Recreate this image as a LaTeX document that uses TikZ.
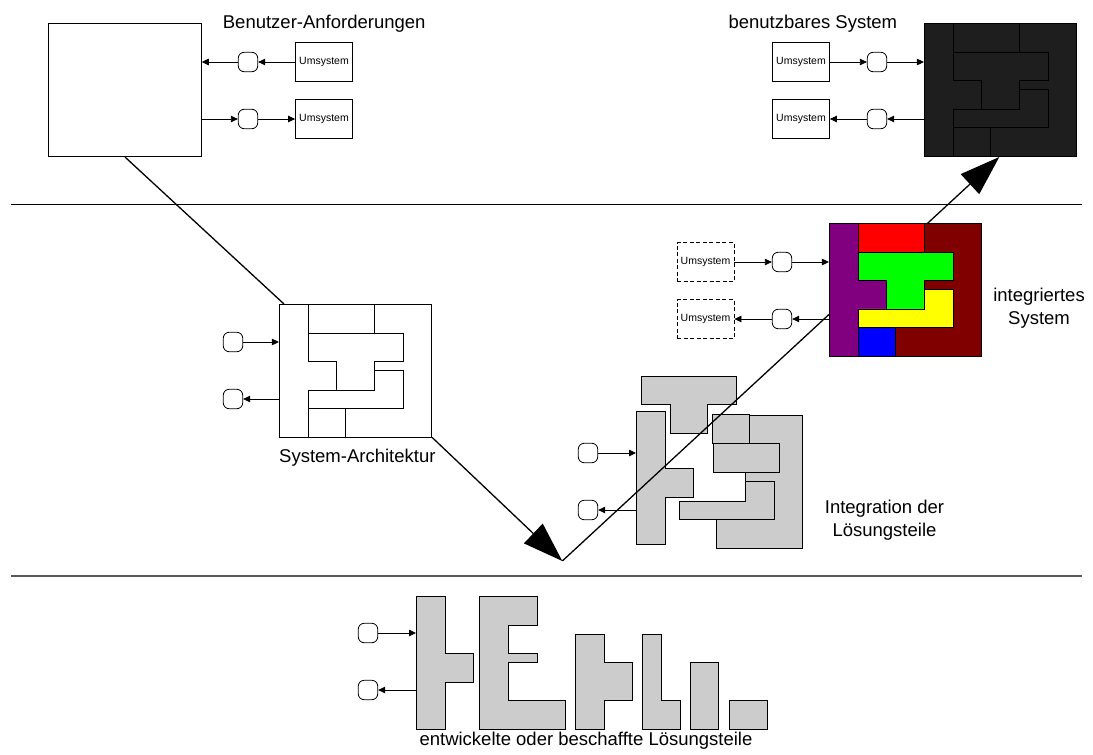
\documentclass[tikz,border=0pt]{standalone}
\usepackage{fontspec}
\setmainfont{Liberation Sans}
\usetikzlibrary{arrows.meta,calc}
\definecolor{pgrey}{RGB}{204,204,204}
\definecolor{sysblk}{RGB}{30,30,30}
\definecolor{ppurple}{RGB}{128,0,128}
\definecolor{pdred}{RGB}{128,0,0}
\definecolor{pred}{RGB}{255,0,0}
\definecolor{pgreen}{RGB}{0,255,0}
\definecolor{pyellow}{RGB}{255,255,0}
\definecolor{pblue}{RGB}{0,0,255}
\tikzset{
 pP/.pic={\path[pic actions] (0,0)--(.19,0)--(.19,.43)--(.375,.43)--(.375,.645)--(.19,.645)--(.19,1)--(0,1)--cycle;},
 pR/.pic={\path[pic actions] (.19,0) rectangle (.622,.22);},
 pG/.pic={\path[pic actions] (.19,.22)--(.812,.22)--(.812,.43)--(.622,.43)--(.622,.645)--(.375,.645)--(.375,.43)--(.19,.43)--cycle;},
 pY/.pic={\path[pic actions] (.622,.5)--(.812,.5)--(.812,.785)--(.19,.785)--(.19,.645)--(.622,.645)--cycle;},
 pB/.pic={\path[pic actions] (.19,.785) rectangle (.437,1);},
 pD/.pic={\path[pic actions] (.622,0)--(1,0)--(1,1)--(.437,1)--(.437,.785)--(.812,.785)--(.812,.5)--(.622,.5)--(.622,.43)--(.812,.43)--(.812,.22)--(.622,.22)--cycle;},
}
\newcommand\drawsystem[7]{%
 \begin{scope}[shift={#1}, x=152.7pt, y=-133.3pt]
  \pic[piece, fill=#7] at (0,0) {pD};
  \pic[piece, fill=#2] at (0,0) {pP};
  \pic[piece, fill=#3] at (0,0) {pR};
  \pic[piece, fill=#4] at (0,0) {pG};
  \pic[piece, fill=#5] at (0,0) {pY};
  \pic[piece, fill=#6] at (0,0) {pB};
 \end{scope}}
\begin{document}
\begin{tikzpicture}[x=1pt,y=-1pt,
  lab/.style={font=\fontsize{18.5}{23.3}\selectfont, inner sep=0pt},
  um/.style={draw, line width=0.8pt, minimum width=57pt, minimum height=39pt, inner sep=0pt, font=\fontsize{10.5}{12}\selectfont},
  umd/.style={um, dash pattern=on 4pt off 2.5pt},
  port/.style={draw, line width=0.8pt, rounded corners=6pt, minimum width=19.5pt, minimum height=19.5pt, inner sep=0pt},
  arr/.style={line width=0.8pt, -{Triangle[length=7pt,width=6.5pt]}},
  vline/.style={line width=1.3pt},
  big/.style={vline, -{Triangle[length=40pt,width=27pt]}},
  frame/.style={minimum width=152.7pt, minimum height=133.3pt, inner sep=0pt},
  piece/.style={draw=black, line width=0.8pt},
  sep/.style={line width=1.2pt},
]
\useasboundingbox (0,0) rectangle (1093,755);

% separators
\coordinate (s1a) at (11,204.5); \coordinate (s1b) at (1082,204.5);
\coordinate (s2a) at (11,576); \coordinate (s2b) at (1082,576);
\draw[sep] (s1a) -- (s1b);
\draw[sep, black!65] (s2a) -- (s2b);

% frames
\node[frame, draw, line width=0.8pt] (req) at (125,90) {};
\node[frame] (sys) at (1000.5,90) {};
\node[frame] (integ) at (905.5,290) {};
\node[frame] (arch) at (355.5,370.5) {};
\coordinate (archin) at (284,304);
\coordinate (tip) at (562.3,561);
\coordinate (sysin) at (999.3,157);

% integration of solution parts
\begin{scope}[shift={(650,415)}, x=152.7pt, y=-133.3pt]
 \pic[piece, fill=pgrey] at (0,0) {pD};
 \pic[piece, fill=pgrey] at (0,0) {pY};
 \pic[piece, fill=pgrey] at (.2227,.2125) {pR};
 \pic[piece, fill=pgrey] at (.216,-.7877) {pB};
 \pic[piece, fill=pgrey] at (-.2443,-.51) {pG};
 \pic[piece, fill=pgrey] at (-.0917,-.03) {pP};
\end{scope}

% V lines
\draw[vline] (req.south) -- (archin);
\draw[big] (arch.south east) -- (tip);
\draw[big] (tip) -- (sysin);

% systems
\drawsystem{(829,223)}{ppurple}{pred}{pgreen}{pyellow}{pblue}{pdred}
\drawsystem{(279,304)}{white}{white}{white}{white}{white}{white}
\drawsystem{(924,23)}{sysblk}{sysblk}{sysblk}{sysblk}{sysblk}{sysblk}

% bottom: developed parts
\begin{scope}[shift={(416,596)}, x=152.7pt, y=-133.3pt]
 \pic[piece, fill=pgrey] at (0,0) {pP};
\end{scope}
\begin{scope}[shift={(632,596)}, x=-152.7pt, y=-133.3pt]
 \pic[piece, fill=pgrey] at (0,0) {pD};
\end{scope}
\filldraw[piece, fill=pgrey] (575.7,634)--(604,634)--(604,662.7)--(632.3,662.7)--(632.3,700.7)--(604,700.7)--(604,729)--(575.7,729)--cycle;
\filldraw[piece, fill=pgrey] (642.3,634)--(661.7,634)--(661.7,700.7)--(680,700.7)--(680,729)--(642.3,729)--cycle;
\filldraw[piece, fill=pgrey] (690,662.7) rectangle (718.3,729);
\filldraw[piece, fill=pgrey] (729,700.7) rectangle (767.7,729);

% top left: requirements
\node[um] (um1) at (324,62) {Umsystem};
\node[um] (um2) at (324,119) {Umsystem};
\node[port] (c1) at (248,62) {};
\node[port] (c2) at (248,119) {};
\draw[arr] (um1) -- (c1);
\draw[arr] (c1) -- (c1 -| req.east);
\draw[arr] (req.east |- c2) -- (c2);
\draw[arr] (c2) -- (um2);

% top right: usable system
\node[um] (um3) at (801,62) {Umsystem};
\node[um] (um4) at (801,119) {Umsystem};
\node[port] (c3) at (877,62) {};
\node[port] (c4) at (877,119) {};
\draw[arr] (um3) -- (c3);
\draw[arr] (c3) -- (c3 -| sys.west);
\draw[arr] (sys.west |- c4) -- (c4);
\draw[arr] (c4) -- (um4);

% integrated system
\node[umd] (um5) at (705.5,262) {Umsystem};
\node[umd] (um6) at (705.5,319) {Umsystem};
\node[port] (c5) at (782,262) {};
\node[port] (c6) at (782,319) {};
\draw[arr] (um5) -- (c5);
\draw[arr] (c5) -- (c5 -| integ.west);
\draw[arr] (integ.west |- c6) -- (c6);
\draw[arr] (c6) -- (um6);

% architecture
\node[port] (c7) at (233,342) {};
\node[port] (c8) at (233,399) {};
\draw[arr] (c7) -- (c7 -| arch.west);
\draw[arr] (arch.west |- c8) -- (c8);

% integration ports
\coordinate (ipl) at (636,480);
\node[port] (c9) at (588,453) {};
\node[port] (c10) at (588,510) {};
\draw[arr] (c9) -- (c9 -| ipl);
\draw[arr] (c10 -| ipl) -- (c10);

% bottom ports
\coordinate (bpl) at (416,660);
\node[port] (c11) at (368,633) {};
\node[port] (c12) at (368,690) {};
\draw[arr] (c11) -- (c11 -| bpl);
\draw[arr] (c12 -| bpl) -- (c12);

% labels
\node[lab, anchor=base west] (lreq) at (222.7,28.5) {Benutzer-Anforderungen};
\node[lab, anchor=base west] (lsys) at (728.3,28.5) {benutzbares System};
\node[lab, anchor=base west] (larch) at (279,462.3) {System-Architektur};
\node[lab, align=center] (lint) at (1039,308) {integriertes\\System};
\node[lab, align=center] (lintg) at (884.5,520) {Integration der\\Lösungsteile};
\node[lab, anchor=base] (ldev) at (586,745) {entwickelte oder beschaffte Lösungsteile};
\end{tikzpicture}
\end{document}
